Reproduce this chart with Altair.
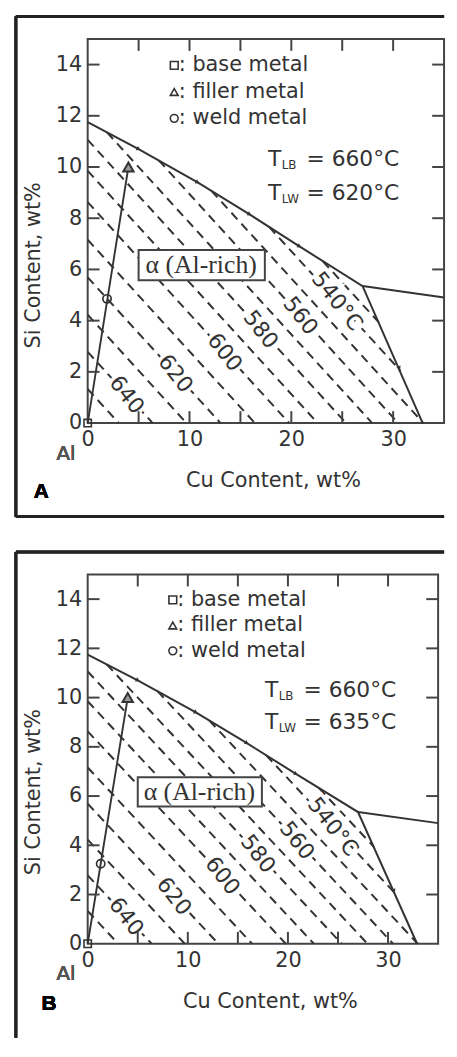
import altair as alt
import pandas as pd

# ---------------- data (wt%) ----------------
x_tick_labels = [0, 10, 20, 30]
y_tick_labels = [0, 2, 4, 6, 8, 10, 12, 14]
x_inner_ticks = [5, 10, 15, 20, 25, 30]
y_inner_ticks = [2, 4, 6, 8, 10, 12, 14]

# liquidus valley (solid) lines
liq_x = [0.0, 5.0, 10.8, 15.9, 20.8, 27.0, 32.9]
liq_y = [11.75, 10.7, 9.4, 8.15, 6.9, 5.35, 0.0]
liq2_x = [27.0, 35.0]
liq2_y = [5.35, 4.9]

# small arrow heads on the valley lines
arrow_x = [5.0, 10.8, 15.9, 20.8, 30.6]
arrow_y = [10.7, 9.4, 8.15, 6.9, 2.14]
arrow_dir = [29, 29, 31, 31, 66]

# isotherms (dashed), end points
iso_x1 = [0, 0, 0, 0, 0, 0, 0, 0, 1.9, 6.98, 12.15, 17.82, 23.1]
iso_y1 = [1.33, 2.78, 4.23, 5.69, 7.16, 8.63, 9.85, 11.06, 11.35, 10.26, 9.07, 7.66, 6.32]
iso_x2 = [3.05, 6.38, 9.70, 13.05, 16.42, 19.79, 22.59, 25.37, 27.94, 30.5, 32.96, 30.72, 28.6]
iso_y2 = [0, 0, 0, 0, 0, 0, 0, 0, 0, 0, 0, 2.04, 3.93]

iso_label_text = ["640", "620", "600", "580", "560", "540°C"]
iso_label_x = [3.84, 8.62, 13.46, 17.0, 20.9, 24.5]
iso_label_y = [1.1, 1.93, 2.76, 3.65, 4.19, 4.75]

base_x, base_y = [0.0], [0.0]
filler_x, filler_y = [4.0], [10.0]
weld_A_x, weld_A_y = [1.9], [4.85]
weld_B_x, weld_B_y = [1.3], [3.25]

legend_symbols = ["square", "triangle-up", "circle"]
legend_labels = [": base metal", ": filler metal", ": weld metal"]
legend_y = [13.97, 12.93, 11.9]
legend_sym_x = 8.5
legend_text_x = 8.95

t_x = 17.7
t_rows_y = [10.3, 9.0]
t_subs = ["LB", "LW"]
t_values_A = ["= 660°C", "= 620°C"]
t_values_B = ["= 660°C", "= 635°C"]

alpha_label = "α (Al-rich)"
alpha_text_x, alpha_text_y = [11.15], [6.17]
alpha_box_x = [5.0, 17.4]
alpha_box_y = [5.58, 6.76]

FONT = "DejaVu Sans"
INK = "#333333"
FRAME = "#222222"
FRAME_RIGHT = 360  # frame's top/bottom lines run to the page edge


def panel(W, H, weld_x, weld_y, t_values, letter, letter_pos, frame_top, frame_bottom, has_bottom):
    xs = alt.Scale(domain=[0, 35], nice=False, zero=False)
    ys = alt.Scale(domain=[0, 15], nice=False, zero=False)
    xaxis = alt.Axis(values=x_tick_labels, title="Cu Content, wt%", ticks=False, domain=False,
                     grid=False, labelFont=FONT, labelFontSize=21, labelColor=INK, labelPadding=6,
                     labelFlush=False, labelOverlap=False,
                     titleFont=FONT, titleFontSize=21, titleFontWeight="normal", titleColor=INK,
                     titleX=W * 0.52, titleY=58, titleBaseline="middle", titleAlign="center")
    yaxis = alt.Axis(values=y_tick_labels, title="Si Content, wt%", ticks=False, domain=False,
                     grid=False, labelFont=FONT, labelFontSize=21, labelColor=INK, labelPadding=6,
                     labelFlush=False, labelOverlap=False,
                     titleFont=FONT, titleFontSize=21, titleFontWeight="normal", titleColor=INK,
                     titleX=-55, titleY=H * 0.588, titleBaseline="middle", titleAlign="center")

    def X(f):
        return alt.X(f, type="quantitative", scale=xs, axis=xaxis)

    def Y(f):
        return alt.Y(f, type="quantitative", scale=ys, axis=yaxis)

    iso_df = pd.DataFrame({"x1": iso_x1, "y1": iso_y1, "x2": iso_x2, "y2": iso_y2})
    liq_df = pd.DataFrame({
        "x": liq_x + liq2_x, "y": liq_y + liq2_y,
        "seg": ["a"] * len(liq_x) + ["b"] * len(liq2_x),
        "i": list(range(len(liq_x))) + list(range(len(liq2_x))),
    })
    arr_df = pd.DataFrame({"x": arrow_x, "y": arrow_y, "ang": arrow_dir})
    dil_df = pd.DataFrame({"x": base_x + filler_x, "y": base_y + filler_y, "i": [0, 1]})
    box_df = pd.DataFrame({"x1": [alpha_box_x[0]], "x2": [alpha_box_x[1]],
                           "y1": [alpha_box_y[0]], "y2": [alpha_box_y[1]]})
    alpha_df = pd.DataFrame({"x": alpha_text_x, "y": alpha_text_y, "t": [alpha_label]})
    lab_df = pd.DataFrame({"x": iso_label_x, "y": iso_label_y, "t": iso_label_text})
    base_df = pd.DataFrame({"x": base_x, "y": base_y})
    fill_df = pd.DataFrame({"x": filler_x, "y": filler_y})
    weld_df = pd.DataFrame({"x": weld_x, "y": weld_y})
    leg_df = pd.DataFrame({"xs": [legend_sym_x] * 3, "xt": [legend_text_x] * 3,
                           "y": legend_y, "sym": legend_symbols, "t": legend_labels})
    t_df = pd.DataFrame({"x": [t_x] * 2, "y": t_rows_y, "sub": t_subs, "val": t_values})
    xt_df = pd.DataFrame({"v": x_inner_ticks})
    yt_df = pd.DataFrame({"v": y_inner_ticks})

    layers = []
    layers.append(alt.Chart(iso_df).mark_rule(strokeDash=[9, 6], strokeWidth=2, color=INK).encode(
        x=X("x1"), y=Y("y1"), x2=alt.X2("x2"), y2=alt.Y2("y2")))
    layers.append(alt.Chart(liq_df).mark_line(color=INK, strokeWidth=2).encode(
        x=X("x"), y=Y("y"), detail="seg:N", order="i:O"))
    layers.append(alt.Chart(arr_df).mark_point(shape="triangle-right", filled=True, size=22,
                                                color=INK, opacity=1).encode(
        x=X("x"), y=Y("y"), angle=alt.Angle("ang:Q", scale=None, legend=None)))
    layers.append(alt.Chart(dil_df).mark_line(color=INK, strokeWidth=1.9).encode(
        x=X("x"), y=Y("y"), order="i:O"))
    layers.append(alt.Chart(box_df).mark_rect(fill="white", stroke="#444444", strokeWidth=2).encode(
        x=X("x1"), x2=alt.X2("x2"), y=Y("y1"), y2=alt.Y2("y2")))
    layers.append(alt.Chart(alpha_df).mark_text(font="Liberation Serif", fontSize=26, color=INK,
                                                align="center", baseline="middle").encode(
        x=X("x"), y=Y("y"), text="t:N"))
    layers.append(alt.Chart(lab_df).mark_text(font=FONT, fontSize=22, color="white", stroke="white",
                                              strokeWidth=7, angle=52, align="center",
                                              baseline="middle").encode(
        x=X("x"), y=Y("y"), text="t:N"))
    layers.append(alt.Chart(lab_df).mark_text(font=FONT, fontSize=22, color=INK, angle=52,
                                              align="center", baseline="middle").encode(
        x=X("x"), y=Y("y"), text="t:N"))
    layers.append(alt.Chart(base_df).mark_point(shape="square", filled=False, size=55, strokeWidth=1.6,
                                                color=INK, opacity=1).encode(x=X("x"), y=Y("y")))
    layers.append(alt.Chart(fill_df).mark_point(shape="triangle-up", filled=True, size=110,
                                                fill="#9a9a9a", stroke=INK, strokeWidth=2,
                                                opacity=1).encode(x=X("x"), y=Y("y")))
    layers.append(alt.Chart(weld_df).mark_point(shape="circle", filled=False, size=70, strokeWidth=1.7,
                                                color=INK, opacity=1).encode(x=X("x"), y=Y("y")))
    layers.append(alt.Chart(leg_df).mark_point(filled=False, size=62, strokeWidth=1.6, color=INK,
                                               opacity=1).encode(
        x=X("xs"), y=Y("y"), shape=alt.Shape("sym:N", scale=None, legend=None)))
    layers.append(alt.Chart(leg_df).mark_text(font=FONT, fontSize=21, color=INK, align="left",
                                              baseline="middle").encode(
        x=X("xt"), y=Y("y"), text="t:N"))
    layers.append(alt.Chart(t_df).mark_text(font=FONT, fontSize=22, color=INK, align="left",
                                            baseline="middle").encode(
        x=X("x"), y=Y("y"), text=alt.value("T")))
    layers.append(alt.Chart(t_df).mark_text(font=FONT, fontSize=12, color=INK, align="left",
                                            baseline="middle", dx=14, dy=6).encode(
        x=X("x"), y=Y("y"), text="sub:N"))
    layers.append(alt.Chart(t_df).mark_text(font=FONT, fontSize=22, color=INK, align="left",
                                            baseline="middle", dx=39).encode(
        x=X("x"), y=Y("y"), text="val:N"))
    # inward ticks on all four sides
    layers.append(alt.Chart(xt_df).mark_rule(color="#444444", strokeWidth=2).encode(
        x=X("v"), y=alt.value(0), y2=alt.value(12)))
    layers.append(alt.Chart(xt_df).mark_rule(color="#444444", strokeWidth=2).encode(
        x=X("v"), y=alt.value(H), y2=alt.value(H - 12)))
    layers.append(alt.Chart(yt_df).mark_rule(color="#444444", strokeWidth=2).encode(
        y=Y("v"), x=alt.value(0), x2=alt.value(12)))
    layers.append(alt.Chart(yt_df).mark_rule(color="#444444", strokeWidth=2).encode(
        y=Y("v"), x=alt.value(W), x2=alt.value(W - 12)))
    # outer frame (its right side runs off the page in the original)
    layers.append(alt.Chart(xt_df).mark_rule(color=FRAME, strokeWidth=2.5).encode(
        x=alt.value(-72.5), y=alt.value(frame_top), y2=alt.value(frame_bottom)))
    layers.append(alt.Chart(xt_df).mark_rule(color=FRAME, strokeWidth=2.5).encode(
        x=alt.value(-72.5), x2=alt.value(FRAME_RIGHT), y=alt.value(frame_top)))
    if has_bottom:
        layers.append(alt.Chart(xt_df).mark_rule(color=FRAME, strokeWidth=2.5).encode(
            x=alt.value(-72.5), x2=alt.value(FRAME_RIGHT), y=alt.value(frame_bottom)))
    layers.append(alt.Chart(xt_df).mark_text(font="Liberation Sans", fontSize=21, fontWeight="bold",
                                             color="black", align="center", baseline="middle").encode(
        x=alt.value(letter_pos[0]), y=alt.value(letter_pos[1]), text=alt.value(letter)))
    layers.append(alt.Chart(xt_df).mark_text(font=FONT, fontSize=20, color="#555555", align="center",
                                             baseline="middle").encode(
        x=alt.value(-22), y=alt.value(H + 31), text=alt.value("Al")))
    return alt.layer(*layers).properties(width=W, height=H)


WA, HA = 360, 388
WB, HB = 354, 373
pA = panel(WA, HA, weld_A_x, weld_A_y, t_values_A, "A", (-47, HA + 70), -22.8, HA + 94.7, True)
pB = panel(WB, HB, weld_B_x, weld_B_y, t_values_B, "B", (-39, HB + 61), -22.7, 468, False)

chart = alt.vconcat(pA, pB, spacing=31).properties(
    padding={"left": 5.5, "top": 0, "right": 0, "bottom": 0},
    background="white",
).configure_view(stroke="#444444", strokeWidth=2)

chart.save("out.html", embed_options={"renderer": "svg", "actions": False})
